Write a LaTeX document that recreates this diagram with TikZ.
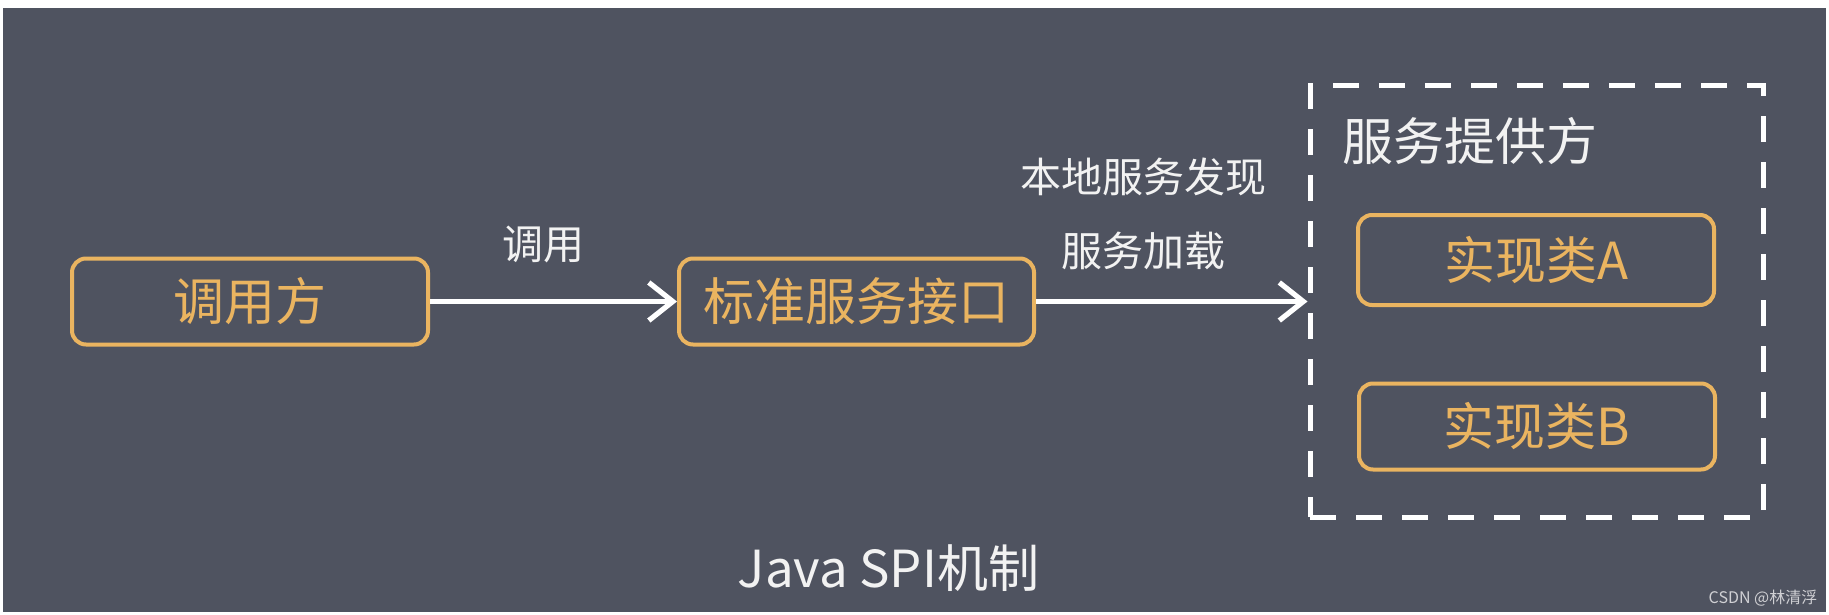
\documentclass[tikz,border=0pt]{standalone}
\usepackage{fontspec}
\setmainfont{Noto Sans CJK SC}
\usetikzlibrary{arrows.meta}
\definecolor{bg}{HTML}{4F5360}
\definecolor{gold}{HTML}{EAB460}
\definecolor{txt}{HTML}{F2F2F2}
\definecolor{mark}{HTML}{D0D0D4}

\begin{document}
\begin{tikzpicture}[x=0.5pt, y=-0.5pt,
  box/.style={draw=gold, line width=2pt, rounded corners=7pt, text=gold,
    font=\fontsize{25.5}{30}\selectfont, minimum width=178pt, minimum height=43pt, inner sep=0pt},
  lbl/.style={text=txt, font=\fontsize{20.5}{24}\selectfont, inner sep=0pt},
  big/.style={font=\fontsize{25.5}{30}\selectfont},
  arr/.style={draw=white, line width=2.6pt, -{Straight Barb[length=12pt, width=19pt]}}]
\fill[white] (0,0) rectangle (1829,615);
\useasboundingbox (0,0) rectangle (1829,615);
\fill[bg] (3,8) rectangle (1826,612);

\node (CALLER) at (250,301.5) [box] {调用方};
\node (IFACE) at (856.5,301.5) [box, minimum width=177.5pt] {标准服务接口};
\node (PROV) at (1536.5,301.5) [draw=white, line width=2.5pt, dash pattern=on 13pt off 10pt,
  minimum width=226.5pt, minimum height=215.5pt, inner sep=0pt] {};
\node (TITLE) at (1342,141) [lbl, big, anchor=west] {服务提供方};
\node (IMPLA) at (1536,260) [box, minimum height=45pt] {实现类A};
\node (IMPLB) at (1537,426.5) [box] {实现类B};

\draw[arr] (CALLER) -- (IFACE) node [midway, above=18pt, xshift=-5pt, lbl] {调用};
\draw[arr] (IFACE) -- (PROV);
\node (DISC) at (1143,177) [lbl] {本地服务发现};
\node (LOAD) at (1143,251) [lbl] {服务加载};

\node (CAPTION) at (888.5,568) [lbl, big] {Java SPI机制};
\node (MARK) at (1763,598) [lbl, text=mark, font=\fontsize{8}{10}\selectfont] {CSDN @林清浮};
\end{tikzpicture}
\end{document}
